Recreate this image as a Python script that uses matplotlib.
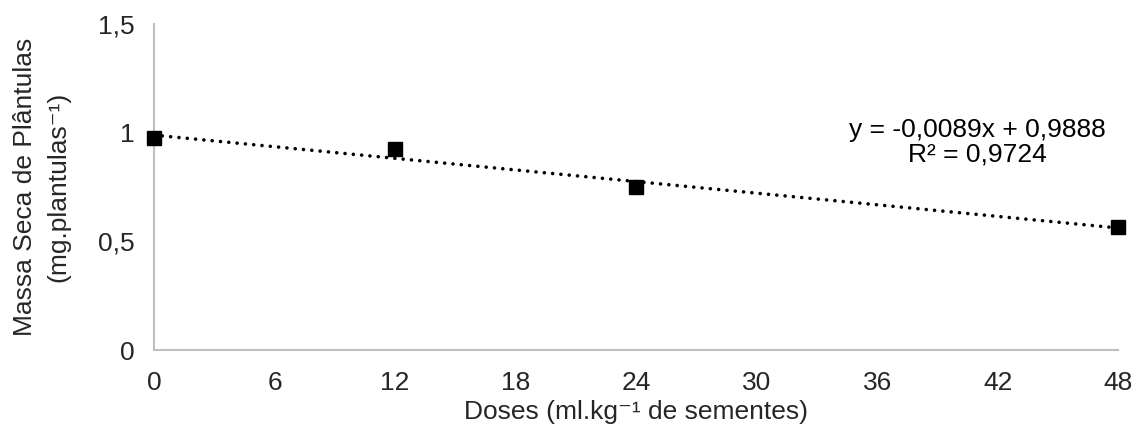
import matplotlib.pyplot as plt
import numpy as np

plt.rcParams['font.family'] = ['Liberation Sans', 'DejaVu Sans']

# dados
doses = [0, 12, 24, 48]
massa_seca = [0.975, 0.925, 0.75, 0.565]
slope = -0.0089
intercept = 0.9888
r2 = 0.9724
x_ticks = [0, 6, 12, 18, 24, 30, 36, 42, 48]
y_ticks = [0, 0.5, 1, 1.5]
y_tick_labels = ['0', '0,5', '1', '1,5']

TXT = '#262626'

fig = plt.figure(figsize=(11.41, 4.28), dpi=100)
ax = fig.add_axes([0.135, 0.182, 0.845, 0.762])

# linha de tendência
xt = np.array([doses[0], doses[-1]])
ax.plot(xt, slope * xt + intercept, color='black', linestyle=(0, (0.01, 2.3)),
        linewidth=2.6, dash_capstyle='round', zorder=2)
ax.plot(doses, massa_seca, linestyle='none', marker='s', markersize=10.5,
        color='black', zorder=3, clip_on=False)

ax.set_xlim(0, 48)
ax.set_ylim(0, 1.5)
ax.set_xticks(x_ticks)
ax.set_xticklabels([str(v) for v in x_ticks])
ax.set_yticks(y_ticks)
ax.set_yticklabels(y_tick_labels)
ax.tick_params(length=0, labelsize=19, colors=TXT)
ax.tick_params(axis='x', pad=15)
ax.tick_params(axis='y', pad=14)

for s in ['top', 'right']:
    ax.spines[s].set_visible(False)
for s in ['left', 'bottom']:
    ax.spines[s].set_color('#BFBFBF')
    ax.spines[s].set_linewidth(1.5)

ax.set_xlabel('Doses (ml.kg⁻¹ de sementes)', fontsize=19, color=TXT, labelpad=4)
ax.set_ylabel('Massa Seca de Plântulas\n(mg.plantulas⁻¹)', fontsize=19,
              color=TXT, labelpad=20, linespacing=1.5)

eq = f'y = {slope:.4f}x + {intercept:.4f}'.replace('.', ',')
r2_txt = f'R² = {r2:.4f}'.replace('.', ',')
ax.text(41.0, 0.955, eq + '\n' + r2_txt, ha='center', va='center',
        fontsize=19, color='black', linespacing=1.0)

plt.savefig('out.png', dpi=100, facecolor='white')
plt.close()
